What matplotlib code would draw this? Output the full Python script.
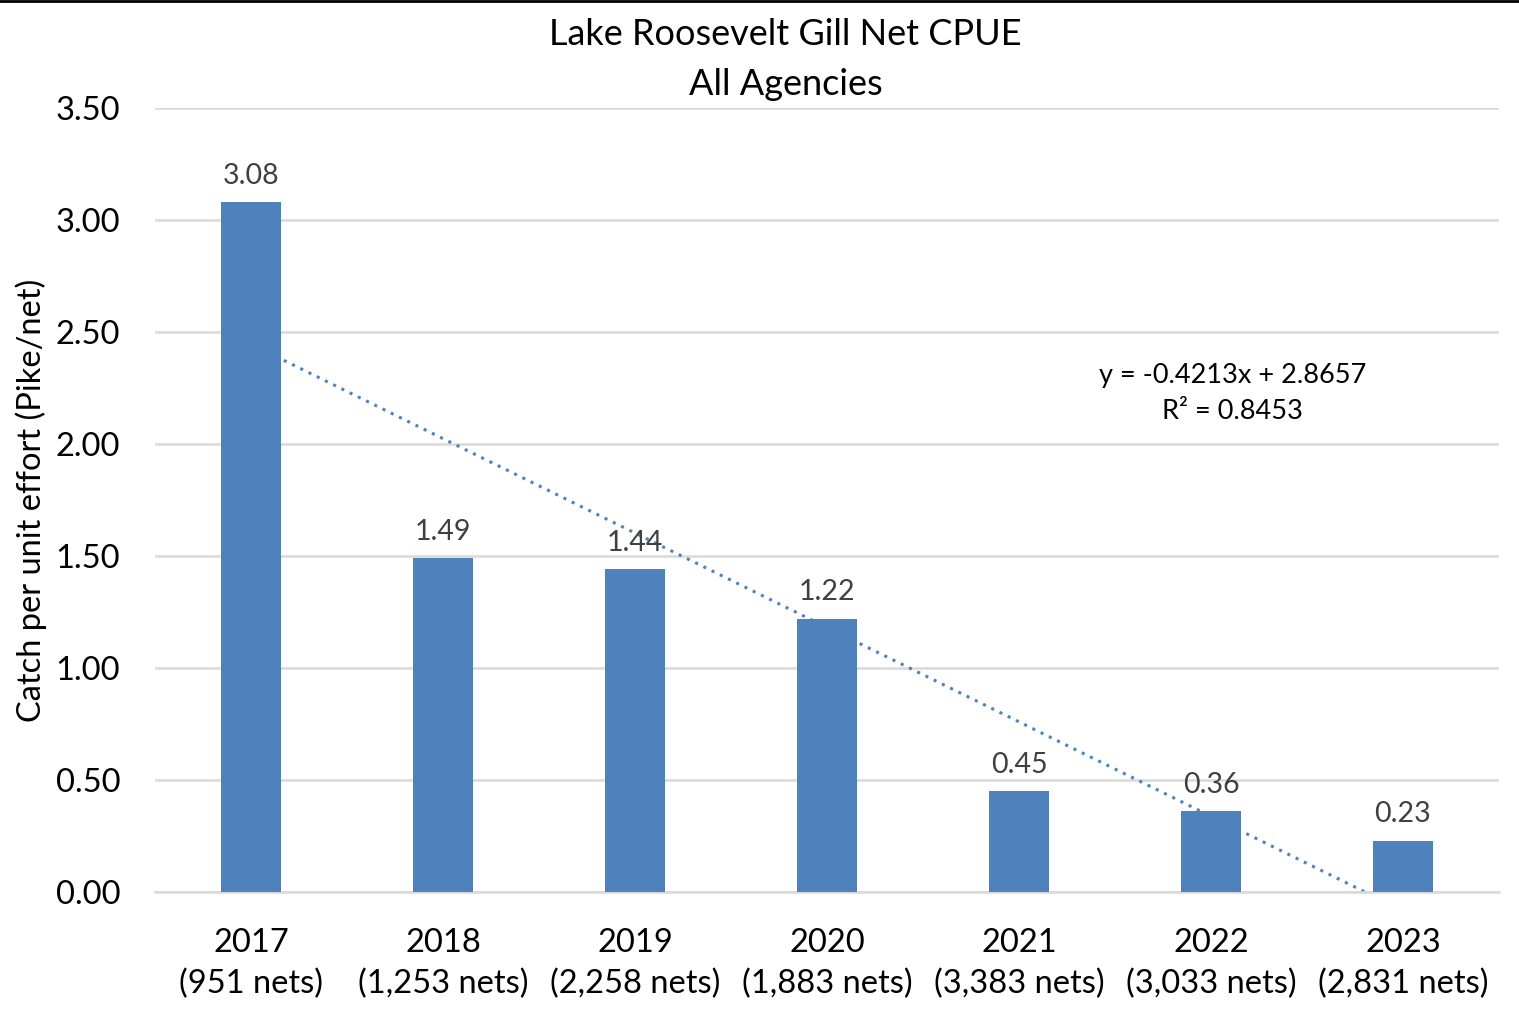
import numpy as np
import matplotlib
matplotlib.use("Agg")
import matplotlib.pyplot as plt

years = ["2017", "2018", "2019", "2020", "2021", "2022", "2023"]
nets = ["951", "1,253", "2,258", "1,883", "3,383", "3,033", "2,831"]
cpue = [3.08, 1.49, 1.44, 1.22, 0.45, 0.36, 0.23]

plt.rcParams['font.family'] = ['Lato', 'DejaVu Sans']

fig = plt.figure(figsize=(15.19, 10.16), dpi=100)
ax = fig.add_axes([0.102, 0.122, 0.8848, 0.7717])

x = np.arange(len(years))
bar_color = '#4F81BD'

# trendline (behind bars)
slope, intercept = np.polyfit(x + 1, cpue, 1)
xt = np.linspace(0, len(years) - 1, 200)
yt = slope * (xt + 1) + intercept
ax.plot(xt, yt, linestyle=(0, (1, 2)), color=bar_color, lw=2.2, zorder=2)

bars = ax.bar(x, cpue, width=0.315, color=bar_color, zorder=3)
for xi, v in zip(x, cpue):
    ax.text(xi, v + 0.06, f"{v:.2f}", ha='center', va='bottom', fontsize=20.5, color='#404040', zorder=4)

ax.set_xlim(-0.5, len(years) - 0.5)
ax.set_ylim(0, 3.5)
ax.set_yticks(np.arange(0, 3.51, 0.5))
ax.set_yticklabels([f"{t:.2f}" for t in np.arange(0, 3.51, 0.5)])
ax.set_xticks(x)
ax.set_xticklabels([f"{y}\n({n} nets)" for y, n in zip(years, nets)], linespacing=1.42)

ax.grid(axis='y', color='#d9d9d9', lw=1.8, zorder=0)
ax.set_axisbelow(True)
for s in ['top', 'right', 'left']:
    ax.spines[s].set_visible(False)
ax.spines['bottom'].set_color('#d9d9d9')
ax.spines['bottom'].set_linewidth(1.8)
ax.tick_params(axis='both', length=0, labelsize=23.5, colors='black')
ax.tick_params(axis='x', pad=26)
ax.tick_params(axis='y', pad=25)

ax.set_ylabel("Catch per unit effort (Pike/net)", fontsize=23.5, labelpad=6)
fig.text(0.517, 0.9656, "Lake Roosevelt Gill Net CPUE", ha='center', va='center', fontsize=26)
fig.text(0.517, 0.917, "All Agencies", ha='center', va='center', fontsize=26)

ax.text(0.802, 0.6365, f"y = -0.4213x + 2.8657\nR² = 0.8453", transform=ax.transAxes,
        ha='center', va='center', fontsize=19.5, linespacing=1.55, color='black')

# top border line
fig.add_artist(plt.Line2D([0, 1], [0.999, 0.999], color='black', lw=2, transform=fig.transFigure))

fig.savefig("out.png", dpi=100)
